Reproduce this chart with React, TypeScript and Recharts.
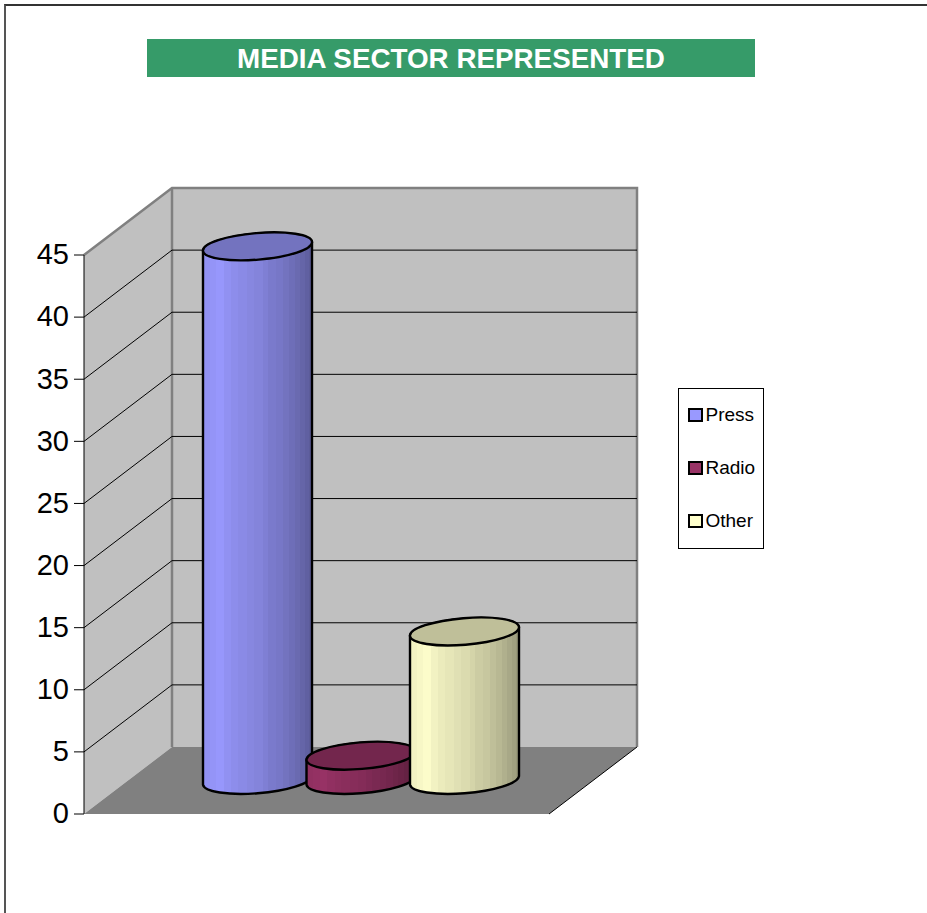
import {
  BarChart,
  Bar,
  XAxis,
  YAxis,
  CartesianGrid,
  ReferenceArea,
} from "recharts";

const categories = ["Media sector"];
const pressValues = [43];
const radioValues = [2];
const otherValues = [12];
const yTicks = [0, 5, 10, 15, 20, 25, 30, 35, 40, 45];
const seriesNames = ["Press", "Radio", "Other"];
const seriesColors = ["#9999ff", "#993366", "#ffffcc"];

const data = categories.map((name, i) => ({
  name,
  Press: pressValues[i],
  Radio: radioValues[i],
  Other: otherValues[i],
}));

// 3d box depth, from the front axis to the back wall
const DEPTH_X = 88;
const DEPTH_Y = -67;
const TILT = -4.7;

// banded shading across the cylinder: [offset %, brightness]
const bands = [
  [0, 0.95], [6, 0.97], [12, 0.99], [19, 0.95], [26, 0.92], [32, 0.9], [40, 0.88],
  [47, 0.86], [55, 0.83], [60, 0.8], [67, 0.78], [73, 0.75], [79, 0.72],
  [84, 0.69], [89, 0.66], [94, 0.63], [97, 0.6],
];

function shade(hex: string, k: number) {
  const n = parseInt(hex.slice(1), 16);
  const r = Math.round(((n >> 16) & 255) * k);
  const g = Math.round(((n >> 8) & 255) * k);
  const b = Math.round((n & 255) * k);
  return `rgb(${r},${g},${b})`;
}

function Walls({ x, y, width, height }: any) {
  const bottom = y + height;
  const right = x + width;
  return (
    <g>
      <polygon
        points={`${x},${y} ${x + DEPTH_X},${y + DEPTH_Y} ${x + DEPTH_X},${bottom + DEPTH_Y} ${x},${bottom}`}
        fill="#c0c0c0"
      />
      <rect x={x + DEPTH_X} y={y + DEPTH_Y} width={width} height={height} fill="#c0c0c0" />
      <polygon
        points={`${x},${bottom} ${x + DEPTH_X},${bottom + DEPTH_Y} ${right + DEPTH_X},${bottom + DEPTH_Y} ${right},${bottom}`}
        fill="#808080"
      />
      <path
        d={`M${x},${y} L${x + DEPTH_X},${y + DEPTH_Y} L${right + DEPTH_X},${y + DEPTH_Y} L${right + DEPTH_X},${bottom + DEPTH_Y}`}
        fill="none"
        stroke="#808080"
        strokeWidth={2.5}
      />
      <line
        x1={x + DEPTH_X}
        y1={y + DEPTH_Y}
        x2={x + DEPTH_X}
        y2={bottom + DEPTH_Y}
        stroke="#808080"
        strokeWidth={2.5}
      />
      <line
        x1={right}
        y1={bottom}
        x2={right + DEPTH_X}
        y2={bottom + DEPTH_Y}
        stroke="#000"
        strokeWidth={1}
      />
    </g>
  );
}

function GridLine({ x1, x2, y1, y, height }: any) {
  // no line on the top edge, the floor has its own
  if (Math.abs(y1 - y) < 1 || Math.abs(y1 - y - height) < 1) return null;
  return (
    <path
      d={`M${x1},${y1} L${x1 + DEPTH_X},${y1 + DEPTH_Y} L${x2 + DEPTH_X},${y1 + DEPTH_Y}`}
      fill="none"
      stroke="#000"
      strokeWidth={1}
    />
  );
}

function Cylinder({ x, y, width, height, fill, dataKey }: any) {
  const cx = x + width / 2 + DEPTH_X / 2;
  const topY = y + DEPTH_Y / 2;
  const baseY = y + height + DEPTH_Y / 2;
  const rx = width * 0.502;
  const ry = width * 0.122;
  const halfW = width / 2;
  const lean = width * 0.039;
  const id = `side-${dataKey}`;
  const body =
    `M${cx - halfW},${topY + lean} L${cx - halfW},${baseY + lean} ` +
    `A${rx},${ry} ${TILT} 0 0 ${cx + halfW},${baseY - lean} ` +
    `L${cx + halfW},${topY - lean} ` +
    `A${rx},${ry} ${TILT} 0 0 ${cx - halfW},${topY + lean} Z`;
  return (
    <g>
      <defs>
        <linearGradient id={id} x1="0" y1="0" x2="1" y2="0">
          {bands.map(([off, k], i) => [
            <stop key={`a${i}`} offset={`${off}%`} stopColor={shade(fill, k)} />,
            <stop
              key={`b${i}`}
              offset={`${i < bands.length - 1 ? bands[i + 1][0] : 100}%`}
              stopColor={shade(fill, k)}
            />,
          ])}
        </linearGradient>
      </defs>
      <path d={body} fill={`url(#${id})`} stroke="#000" strokeWidth={2.4} strokeLinejoin="round" />
      <ellipse
        cx={cx}
        cy={topY}
        rx={rx}
        ry={ry}
        transform={`rotate(${TILT} ${cx} ${topY})`}
        fill={shade(fill, 0.75)}
        stroke="#000"
        strokeWidth={2.4}
      />
    </g>
  );
}

function ChartLegend() {
  return (
    <div
      style={{
        position: "absolute",
        left: 678,
        top: 388,
        width: 84,
        height: 159,
        border: "1px solid #000",
        background: "#fff",
        fontFamily: "'Liberation Sans', Arial, sans-serif",
        fontSize: 19,
        color: "#000",
      }}
    >
      {seriesNames.map((name, i) => (
        <div
          key={name}
          style={{
            position: "absolute",
            left: 9,
            top: 15 + i * 53,
            height: 22,
            display: "flex",
            alignItems: "center",
            whiteSpace: "nowrap",
          }}
        >
          <span
            style={{
              width: 10.5,
              height: 10.5,
              marginRight: 3,
              background: seriesColors[i],
              border: "2px solid #000",
              display: "inline-block",
            }}
          />
          {name}
        </div>
      ))}
    </div>
  );
}

export default function App() {
  return (
    <div
      style={{
        position: "absolute",
        left: 0,
        top: 0,
        width: 927,
        height: 913,
        overflow: "hidden",
        background: "#fff",
      }}
    >
      <div
        style={{
          position: "absolute",
          left: 4,
          top: 4,
          width: 930,
          height: 920,
          borderTop: "2px solid #333",
          borderLeft: "2px solid #555",
        }}
      />
      <div
        style={{
          position: "absolute",
          left: 147,
          top: 39,
          width: 608,
          height: 38,
          background: "#369b69",
          color: "#fff",
          fontFamily: "'Liberation Sans', Arial, sans-serif",
          fontWeight: "bold",
          fontSize: 27.8,
          lineHeight: "39px",
          textAlign: "center",
        }}
      >
        MEDIA SECTOR REPRESENTED
      </div>
      <BarChart
        width={927}
        height={913}
        data={data}
        barSize={109}
        barGap={-5.5}
        margin={{ top: 255, right: 378, bottom: 99, left: 0 }}
        style={{ position: "absolute", left: 0, top: 0 }}
      >
        <ReferenceArea y1={0} y2={45} shape={Walls} zIndex={-200} ifOverflow="visible" />
        <CartesianGrid horizontal={GridLine} vertical={false} />
        <XAxis
          dataKey="name"
          tick={false}
          tickLine={false}
          height={0}
          axisLine={{ stroke: "#000", strokeWidth: 1 }}
        />
        <YAxis
          width={84}
          domain={[0, 45]}
          ticks={yTicks}
          interval={0}
          tickSize={10}
          tickMargin={5}
          axisLine={{ stroke: "#000", strokeWidth: 1 }}
          tickLine={{ stroke: "#000", strokeWidth: 1 }}
          tick={{ fill: "#000", fontSize: 29, dy: -1, fontFamily: "'Liberation Sans', Arial, sans-serif" }}
        />
        <Bar dataKey="Press" fill={seriesColors[0]} shape={Cylinder} isAnimationActive={false} />
        <Bar dataKey="Radio" fill={seriesColors[1]} shape={Cylinder} isAnimationActive={false} />
        <Bar dataKey="Other" fill={seriesColors[2]} shape={Cylinder} isAnimationActive={false} />
      </BarChart>
      <ChartLegend />
    </div>
  );
}
